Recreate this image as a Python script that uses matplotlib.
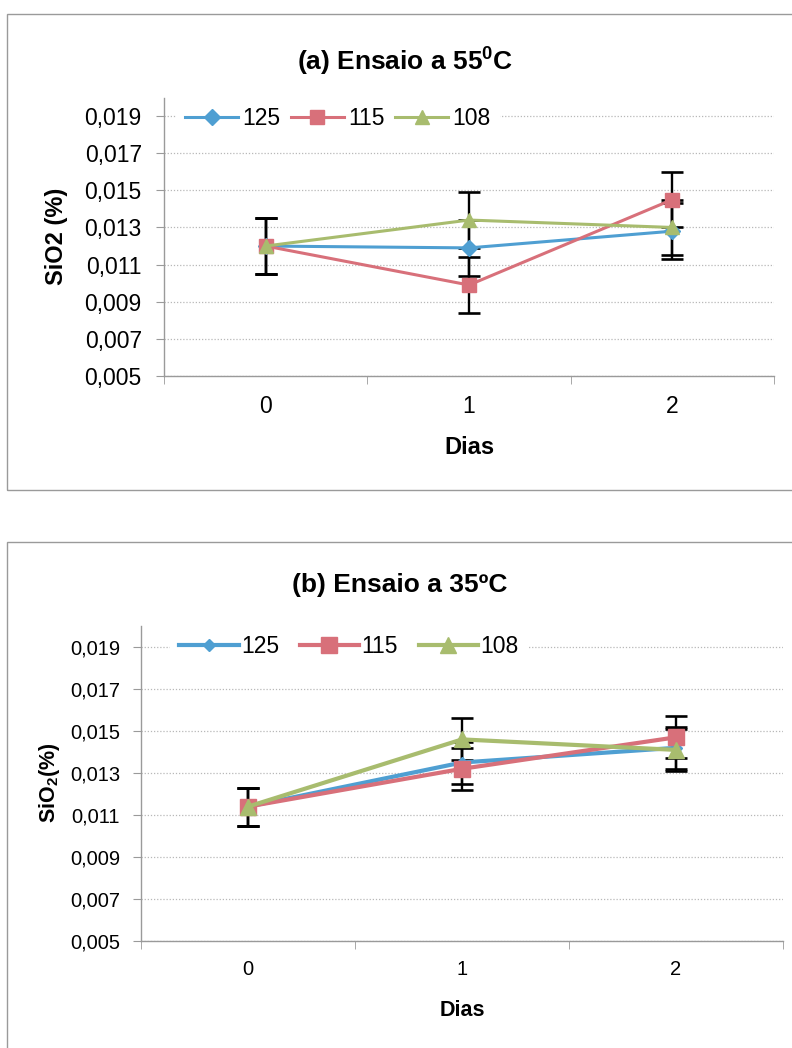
import matplotlib
matplotlib.use("Agg")
import matplotlib.pyplot as plt
from matplotlib.patches import Rectangle
from matplotlib.ticker import FixedLocator, FuncFormatter

plt.rcParams['font.family'] = ['Liberation Sans', 'DejaVu Sans']
plt.rcParams['mathtext.fontset'] = 'custom'
plt.rcParams['mathtext.rm'] = 'Liberation Sans:bold'
plt.rcParams['mathtext.default'] = 'rm'

# ---- data ----
days = [0, 1, 2]
day_labels = ["0", "1", "2"]
series_names = ["125", "115", "108"]

# (a) test at 55 C
a_125 = [0.0120, 0.0119, 0.0128]
a_115 = [0.0120, 0.0099, 0.0145]
a_108 = [0.0120, 0.0134, 0.0130]
a_err = [0.0015, 0.0015, 0.0015]

# (b) test at 35 C
b_125 = [0.0114, 0.0135, 0.0142]
b_115 = [0.0114, 0.0132, 0.0147]
b_108 = [0.0114, 0.0146, 0.0141]
b_err = [0.0009, 0.0010, 0.0010]

y_ticks = [0.005, 0.007, 0.009, 0.011, 0.013, 0.015, 0.017, 0.019]

colors = ['#4f9fd2', '#d8707a', '#a8bc6e']
markers = ['D', 's', '^']

fig = plt.figure(figsize=(7.92, 10.48), dpi=100)
W, H = 792.0, 1048.0

# panel frames
fig.patches.append(Rectangle((7 / W, 1 - 490 / H), 1.0, (490 - 14) / H,
                             transform=fig.transFigure, fill=False,
                             edgecolor='#9a9a9a', linewidth=1.0, zorder=0))
fig.patches.append(Rectangle((7 / W, -0.05), 1.0, 0.05 + 1 - 542 / H,
                             transform=fig.transFigure, fill=False,
                             edgecolor='#9a9a9a', linewidth=1.0, zorder=0))


def draw_panel(rect, values, errs, title, title_xy, ylabel, ylabel_xy,
               tick_fs, label_fs, lw, msizes, leg_kw, dias_y, xtick_pad,
               ytick_pad):
    ax = fig.add_axes(rect)
    for vals, c, m, ms, name in zip(values, colors, markers, msizes, series_names):
        ax.errorbar(days, vals, yerr=errs, fmt='none', ecolor='black',
                    elinewidth=1.7, capsize=8, capthick=1.9, zorder=2)
        ax.plot(days, vals, color=c, marker=m, markersize=ms, linewidth=lw,
                markeredgecolor=c, label=name, zorder=3)
    ax.set_xlim(-0.5, 2.5)
    ax.set_ylim(0.005, 0.020)
    ax.yaxis.set_major_locator(FixedLocator(y_ticks))
    ax.yaxis.set_major_formatter(
        FuncFormatter(lambda v, p: f"{v:.3f}".replace('.', ',')))
    ax.set_xticks(days)
    ax.set_xticklabels(day_labels)
    ax.xaxis.set_minor_locator(FixedLocator([-0.5, 0.5, 1.5, 2.5]))
    ax.tick_params(axis='x', which='major', length=0, labelsize=tick_fs,
                   pad=xtick_pad)
    ax.tick_params(axis='x', which='minor', length=6, color='#9a9a9a',
                   direction='out')
    ax.tick_params(axis='y', which='major', length=6, color='#9a9a9a',
                   direction='out', labelsize=tick_fs, pad=ytick_pad)
    ax.grid(axis='y', linestyle=(0, (1, 1.5)), color='#b8b8b8',
            linewidth=0.9, zorder=0)
    for s in ('top', 'right'):
        ax.spines[s].set_visible(False)
    for s in ('left', 'bottom'):
        ax.spines[s].set_color('#9a9a9a')
        ax.spines[s].set_linewidth(1.0)
    ax.set_axisbelow(True)

    leg = ax.legend(ncol=3, frameon=True, facecolor='white',
                    edgecolor='none', framealpha=1.0, fancybox=False,
                    borderaxespad=0.0, **leg_kw)
    leg.set_zorder(5)

    fig.text(title_xy[0] / W, 1 - title_xy[1] / H, title, ha='center',
             va='center', fontsize=19, fontweight='bold')
    fig.text(ylabel_xy[0] / W, 1 - ylabel_xy[1] / H, ylabel,
             rotation=90, ha='center', va='center', fontsize=label_fs,
             fontweight='bold')
    fig.text((rect[0] + rect[2] / 2), 1 - dias_y / H, 'Dias', ha='center',
             va='center', fontsize=label_fs, fontweight='bold')
    return ax


# panel (a)
ax_a = draw_panel(
    [164 / W, 1 - 376 / H, 610 / W, (376 - 97.5) / H],
    [a_125, a_115, a_108], a_err,
    r"(a) Ensaio a 55$^{0}$C", (405, 62),
    "SiO2 (%)", (57, 236),
    16.5, 17, 2.2, [8, 10, 10.5],
    dict(loc='upper left', bbox_to_anchor=(0.02, 1.0), fontsize=16.5,
         handlelength=2.3, handletextpad=0.2, columnspacing=0.45,
         borderpad=0.4),
    448, 14, 10)

# panel (b)
ax_b = draw_panel(
    [141 / W, 1 - 941 / H, 642 / W, (941 - 626) / H],
    [b_125, b_115, b_108], b_err,
    "(b) Ensaio a 35\u00baC", (400, 585),
    "SiO$_2$(%)", (50, 783),
    14.5, 15.5, 3.0, [6.5, 11, 11],
    dict(loc='upper left', bbox_to_anchor=(0.045, 1.0), fontsize=16.5,
         handlelength=2.6, handletextpad=0.1, columnspacing=0.9,
         borderpad=0.4),
    1010, 14, 9)

fig.savefig('out.png', dpi=100)
